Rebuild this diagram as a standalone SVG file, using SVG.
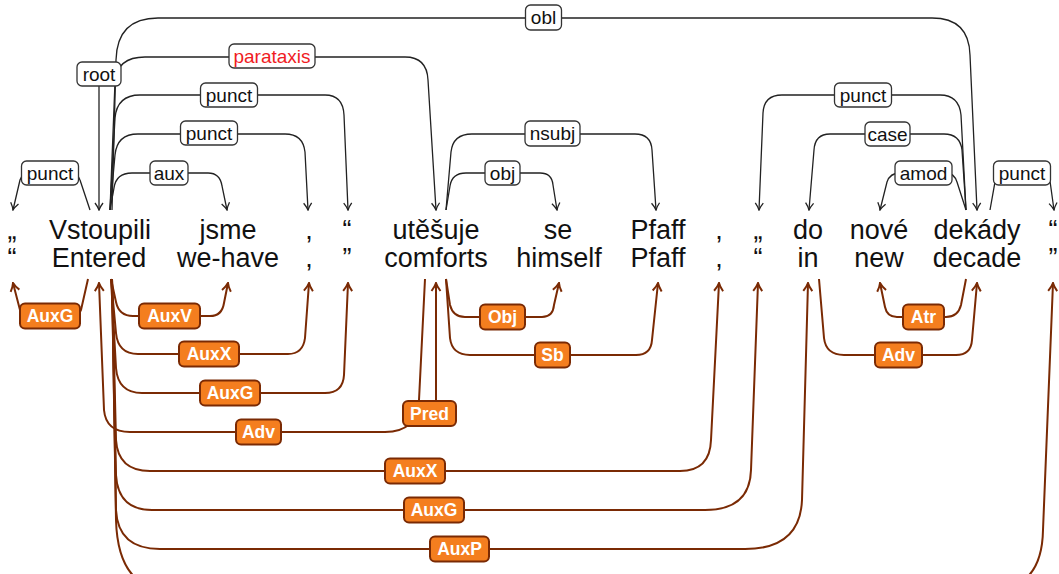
<svg xmlns="http://www.w3.org/2000/svg" width="1059" height="574" viewBox="0 0 1059 574">
<defs>
<style>
.w{font-family:"Liberation Sans",Arial,sans-serif;font-size:27px;fill:#111;text-anchor:middle}
.ud{fill:none;stroke:#222;stroke-width:1.3;marker-end:url(#ab)}
.pd{fill:none;stroke:#7a2a04;stroke-width:2;marker-end:url(#ar)}
.lb rect{fill:#fff;stroke:#333;stroke-width:1.3}
.lb text{font-family:"Liberation Sans",Arial,sans-serif;font-size:19px;fill:#111;text-anchor:middle;dominant-baseline:central}
.lo rect{fill:#f47e1f;stroke:#7a2a04;stroke-width:2}
.lo text{font-family:"Liberation Sans",Arial,sans-serif;font-size:17.5px;font-weight:bold;fill:#fff;text-anchor:middle;dominant-baseline:central}
</style>
<marker id="ab" viewBox="-9 -5 10 10" refX="0" refY="0" markerWidth="10" markerHeight="10" markerUnits="userSpaceOnUse" orient="auto">
<path d="M-7,-4 Q-3,-1 0,0 Q-3,1 -7,4" fill="none" stroke="#222" stroke-width="1.3"/>
</marker>
<marker id="ar" viewBox="-10 -6 11 12" refX="0" refY="0" markerWidth="11" markerHeight="12" markerUnits="userSpaceOnUse" orient="auto">
<path d="M-8,-4.5 Q-3.5,-1 0,0 Q-3.5,1 -8,4.5" fill="none" stroke="#7a2a04" stroke-width="2"/>
</marker>
</defs>
<rect width="1059" height="574" fill="#fff"/>

<g id="connectors">
<!-- UD (top) -->
<path class="ud" d="M90,210 L80,180 Q78,173 70,173 L30,173 Q22,173 20,180 L13,210"/>
<path class="ud" d="M99,86 L99,210"/>
<path class="ud" d="M110,210 L114,188 Q116,173 132,173 L208,173 Q220,173 222,186 L227,210"/>
<path class="ud" d="M110,210 L115,155 Q117,134 138,134 L285,134 Q303,134 305,152 L308,210"/>
<path class="ud" d="M110,210 L115,118 Q117,95 140,95 L325,95 Q343,95 344,115 L348,210"/>
<path class="ud" d="M110,210 L115,82 Q117,57 145,57 L405,57 Q427,57 428,80 L436,210"/>
<path class="ud" d="M112,210 L116,60 Q117,18 158,18 L932,18 Q969,18 970,55 L977,210"/>
<path class="ud" d="M446,210 L451,152 Q453,134 472,134 L635,134 Q651,134 652,150 L656,210"/>
<path class="ud" d="M446,210 L450,186 Q452,173 466,173 L540,173 Q552,173 553,185 L557,210"/>
<path class="ud" d="M966,210 L961,115 Q959,95 940,95 L782,95 Q764,95 763,113 L759,210"/>
<path class="ud" d="M966,210 L962,150 Q960,134 944,134 L830,134 Q815,134 814,150 L809,210"/>
<path class="ud" d="M966,210 L957,182 Q954,173 946,173 L900,173 Q890,173 887,182 L880,210"/>
<path class="ud" d="M990,210 L995,182 Q997,173 1005,173 L1040,173 Q1048,173 1050,181 L1054,210"/>
<!-- Prague (bottom) -->
<path class="pd" d="M88,279 L81,310 Q79,316 72,316 L28,316 Q22,316 20,310 L13,283"/>
<path class="pd" d="M111,279 L116,302 Q119,316 133,316 L210,316 Q222,316 224,303 L228,283"/>
<path class="pd" d="M111,279 L116,333 Q118,354 138,354 L288,354 Q303,354 305,338 L309,283"/>
<path class="pd" d="M111,279 L116,368 Q118,393 142,393 L325,393 Q343,393 344,375 L348,283"/>
<path class="pd" d="M436,401 L436,283"/>
<path class="pd" d="M425,279 L419,400 Q417,432 385,432 L130,432 Q106,432 104,410 L99,283"/>
<path class="pd" d="M112,279 L116,440 Q118,471 150,471 L680,471 Q710,471 711,440 L719,283"/>
<path class="pd" d="M112,279 L116,475 Q118,510 152,510 L705,510 Q750,510 751,470 L758,283"/>
<path class="pd" d="M112,279 L116,510 Q118,549 160,549 L745,549 Q800,549 802,500 L808,283"/>
<path class="pd" d="M112,279 L116,520 Q118,590 170,590 L990,590 Q1042,590 1043,530 L1053,283"/>
<path class="pd" d="M446,279 L450,305 Q453,317 465,317 L542,317 Q553,317 554,305 L559,283"/>
<path class="pd" d="M446,279 L450,338 Q452,355 470,355 L636,355 Q651,355 652,340 L658,283"/>
<path class="pd" d="M966,279 L961,305 Q958,317 946,317 L897,317 Q887,317 885,307 L880,283"/>
<path class="pd" d="M819,279 L824,338 Q826,355 844,355 L956,355 Q971,355 972,340 L977,283"/>

<!-- UD labels -->
<g class="lb"><rect x="21.5" y="161" width="57" height="24" rx="5"/><text x="50" y="173">punct</text></g>
<g class="lb"><rect x="77" y="62" width="44" height="24" rx="5"/><text x="99" y="74">root</text></g>
<g class="lb"><rect x="150" y="161" width="38" height="24" rx="5"/><text x="169" y="173">aux</text></g>
<g class="lb"><rect x="180.5" y="121" width="57" height="24" rx="5"/><text x="209" y="133">punct</text></g>
<g class="lb"><rect x="200.5" y="83" width="57" height="24" rx="5"/><text x="229" y="95">punct</text></g>
<g class="lb"><rect x="229" y="44" width="86" height="24" rx="5"/><text x="272" y="56" style="fill:#f01c24">parataxis</text></g>
<g class="lb"><rect x="525.5" y="5" width="36" height="25" rx="5"/><text x="543.5" y="17">obl</text></g>
<g class="lb"><rect x="525" y="121" width="55" height="25" rx="5"/><text x="552.5" y="133">nsubj</text></g>
<g class="lb"><rect x="485" y="161" width="35" height="24" rx="5"/><text x="502.5" y="173">obj</text></g>
<g class="lb"><rect x="834.5" y="83" width="57" height="24" rx="5"/><text x="863" y="95">punct</text></g>
<g class="lb"><rect x="865" y="122" width="45" height="24" rx="5"/><text x="887.5" y="134">case</text></g>
<g class="lb"><rect x="895" y="161" width="57" height="24" rx="5"/><text x="923.5" y="173">amod</text></g>
<g class="lb"><rect x="993.5" y="161" width="57" height="24" rx="5"/><text x="1022" y="173">punct</text></g>

<!-- Prague labels -->
<g class="lo"><rect x="20" y="303.5" width="60" height="25" rx="5"/><text x="50" y="316">AuxG</text></g>
<g class="lo"><rect x="139" y="303.5" width="61" height="25" rx="5"/><text x="169.5" y="316">AuxV</text></g>
<g class="lo"><rect x="179" y="341.5" width="60" height="25" rx="5"/><text x="209" y="354">AuxX</text></g>
<g class="lo"><rect x="200" y="380.5" width="60" height="25" rx="5"/><text x="230" y="393">AuxG</text></g>
<g class="lo"><rect x="403" y="401" width="53" height="25" rx="5"/><text x="429.5" y="413.5">Pred</text></g>
<g class="lo"><rect x="236" y="419.5" width="45" height="25" rx="5"/><text x="258.5" y="432">Adv</text></g>
<g class="lo"><rect x="385" y="458.5" width="60" height="25" rx="5"/><text x="415" y="471">AuxX</text></g>
<g class="lo"><rect x="404" y="497.5" width="60" height="25" rx="5"/><text x="434" y="510">AuxG</text></g>
<g class="lo"><rect x="430" y="536.5" width="59" height="25" rx="5"/><text x="459.5" y="549">AuxP</text></g>
<g class="lo"><rect x="480" y="304.5" width="45" height="25" rx="5"/><text x="502.5" y="317">Obj</text></g>
<g class="lo"><rect x="535" y="342.5" width="35" height="25" rx="5"/><text x="552.5" y="355">Sb</text></g>
<g class="lo"><rect x="903" y="304.5" width="41" height="25" rx="5"/><text x="923.5" y="317">Atr</text></g>
<g class="lo"><rect x="875" y="342.5" width="47" height="25" rx="5"/><text x="898.5" y="355">Adv</text></g>
</g>

<g id="w1"><text class="w" x="12" y="239">„</text><text class="w" x="12" y="267">“</text></g>
<g id="w2"><text class="w" x="100" y="239">Vstoupili</text><text class="w" x="99" y="267">Entered</text></g>
<g id="w3"><text class="w" x="228" y="239">jsme</text><text class="w" x="228" y="267">we-have</text></g>
<g id="w4"><text class="w" x="309" y="239">,</text><text class="w" x="309" y="267">,</text></g>
<g id="w5"><text class="w" x="347" y="239">“</text><text class="w" x="347" y="267">”</text></g>
<g id="w6"><text class="w" x="436" y="239">utěšuje</text><text class="w" x="436" y="267">comforts</text></g>
<g id="w7"><text class="w" x="558" y="239">se</text><text class="w" x="559" y="267">himself</text></g>
<g id="w8"><text class="w" x="658" y="239">Pfaff</text><text class="w" x="658" y="267">Pfaff</text></g>
<g id="w9"><text class="w" x="719" y="239">,</text><text class="w" x="719" y="267">,</text></g>
<g id="w10"><text class="w" x="758" y="239">„</text><text class="w" x="758" y="267">“</text></g>
<g id="w11"><text class="w" x="808" y="239">do</text><text class="w" x="808" y="267">in</text></g>
<g id="w12"><text class="w" x="879" y="239">nové</text><text class="w" x="879" y="267">new</text></g>
<g id="w13"><text class="w" x="977" y="239">dekády</text><text class="w" x="977" y="267">decade</text></g>
<g id="w14"><text class="w" x="1053" y="239">“</text><text class="w" x="1053" y="267">”</text></g>
</svg>
